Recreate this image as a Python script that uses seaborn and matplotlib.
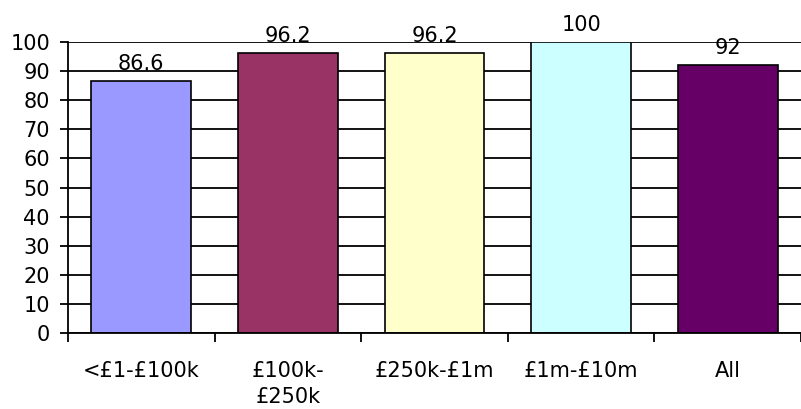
import matplotlib
matplotlib.use("Agg")
import matplotlib.pyplot as plt
import seaborn as sns
import pandas as pd
import numpy as np

categories = ["<£1-£100k", "£100k-\n£250k", "£250k-£1m", "£1m-£10m", "All"]
values = [86.6, 96.2, 96.2, 100, 92]
value_labels = ["86.6", "96.2", "96.2", "100", "92"]
colors = ["#9999FF", "#993366", "#FFFFCC", "#CCFFFF", "#660066"]

sns.set_theme(style="white")
plt.rcParams["font.family"] = ["DejaVu Sans"]

df = pd.DataFrame({"band": categories, "pct": values})

fig = plt.figure(figsize=(8.01, 4.09), dpi=100)
ax = fig.add_axes([68 / 801, 1 - 333 / 409, 1 - 68 / 801, (333 - 42) / 409])

sns.barplot(data=df, x="band", y="pct", hue="band", palette=colors, legend=False,
            width=0.68, edgecolor="black", linewidth=1.2, saturation=1, ax=ax)

ax.set_xlim(-0.5, len(categories) - 0.5)
ax.set_ylim(0, 100)
ax.set_yticks(np.arange(0, 101, 10))
ax.yaxis.grid(True, color="black", linewidth=1.3)
ax.set_axisbelow(True)

for spine in ["top", "right"]:
    ax.spines[spine].set_visible(False)
for spine in ["left", "bottom"]:
    ax.spines[spine].set_color("black")
    ax.spines[spine].set_linewidth(1.3)

# value labels above each bar
for i, (v, lab) in enumerate(zip(values, value_labels)):
    ax.annotate(lab, (i, v), xytext=(0, 5), textcoords="offset points",
                ha="center", va="bottom", fontsize=15, color="black")

# category labels at bar centres, tick marks at category boundaries
ax.set_xticks(range(len(categories)))
ax.set_xticklabels(categories, fontsize=15, linespacing=1.4)
ax.set_xticks(np.arange(-0.5, len(categories), 1.0), minor=True)
ax.tick_params(axis="x", which="major", length=0, pad=20, labelcolor="black")
ax.tick_params(axis="x", which="minor", length=6.5, width=1.3, color="black", direction="out", bottom=True)
ax.tick_params(axis="y", length=6, width=1.3, color="black", direction="out", left=True,
               labelsize=15, pad=7, labelcolor="black")
ax.set_xlabel("")
ax.set_ylabel("")

fig.savefig("out.png", dpi=100)
